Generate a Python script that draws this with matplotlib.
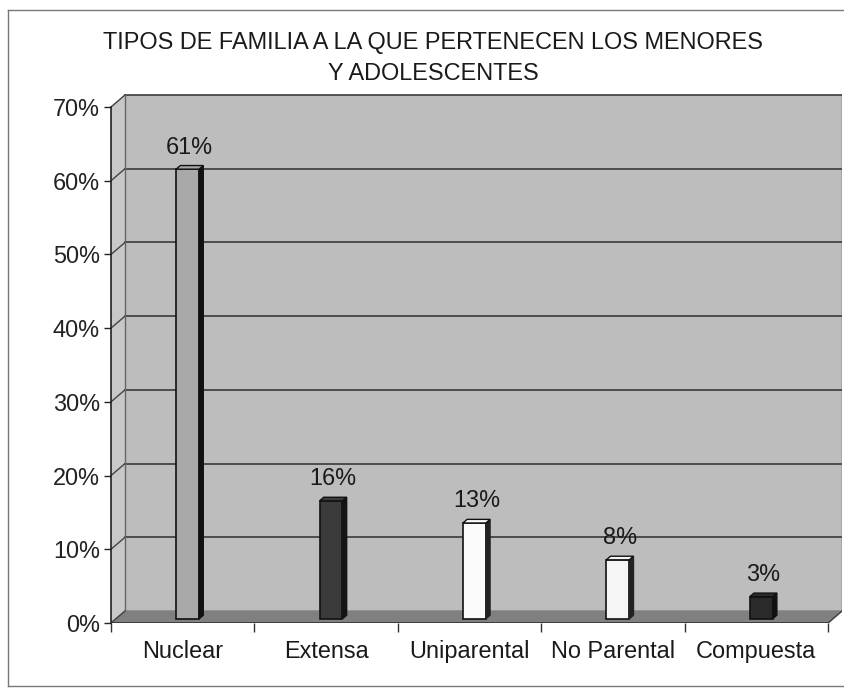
import matplotlib.pyplot as plt
from matplotlib.lines import Line2D

# data
categorias = ['Nuclear', 'Extensa', 'Uniparental', 'No Parental', 'Compuesta']
porcentajes = [61, 16, 13, 8, 3]
colores_frente = ['#a9a9a9', '#3b3b3b', '#fbfbfb', '#f5f5f5', '#2b2b2b']
colores_lado = ['#111111', '#141414', '#222222', '#222222', '#111111']
yticks = [0, 10, 20, 30, 40, 50, 60, 70]

titulo = 'TIPOS DE FAMILIA A LA QUE PERTENECEN LOS MENORES\nY ADOLESCENTES'

plt.rcParams['font.family'] = ['Liberation Sans', 'DejaVu Sans']
FS = 16.9


def main():
    W, H = 844, 689
    fig = plt.figure(figsize=(W / 100, H / 100), dpi=100)
    fig.patch.set_facecolor('white')

    # axes placed in pixel terms
    left, right, bottom, top = 111, 842, 623, 93
    ax = fig.add_axes([left / W, (H - bottom) / H, (right - left) / W, (bottom - top) / H])

    px_cat = (828 - 111) / 5.0
    px_pct = (623 - 107) / 70.0
    ax.set_xlim(0.5, 0.5 + (right - left) / px_cat)
    ax.set_ylim(0, (bottom - top) / px_pct)
    ax.patch.set_alpha(0)

    # depth offset of the 3D box (data units)
    dx = 14 / px_cat
    dy = 12 / px_pct
    x0, x1 = 0.5, 5.5
    ymax = 70

    # back wall, side wall, floor
    ax.fill([x0 + dx, x1 + dx, x1 + dx, x0 + dx], [dy, dy, ymax + dy, ymax + dy],
            color='#bdbdbd', zorder=0)
    ax.fill([x0, x0 + dx, x0 + dx, x0], [0, dy, ymax + dy, ymax],
            color='#c8c8c8', zorder=0)
    ax.fill([x0, x1, x1 + dx, x0 + dx], [0, 0, dy, dy], color='#808080', zorder=1)

    # gridlines on back wall + diagonals on side wall
    for t in yticks:
        ax.plot([x0, x0 + dx], [t, t + dy], color='#444444', lw=1, zorder=1)
        if t > 0:
            ax.plot([x0 + dx, x1 + dx], [t + dy, t + dy], color='#2e2e2e', lw=1.1, zorder=1)
    ax.plot([x0 + dx, x0 + dx], [dy, ymax + dy], color='#666666', lw=1, zorder=1)
    ax.plot([x1 + dx, x1 + dx], [dy, ymax + dy], color='#555555', lw=1, zorder=1)
    ax.plot([x1, x1 + dx], [0, dy], color='#444444', lw=1, zorder=2)
    ax.plot([x0, x1], [0, 0], color='#333333', lw=1.2, zorder=2)

    # bars (front face + right side + top)
    pos = list(range(1, len(categorias) + 1))
    fdx, fdy = 0.35 * dx, 0.35 * dy
    bdx, bdy = 0.3 * dx, 0.3 * dy
    w = 0.16
    xs = [p + fdx for p in pos]
    ax.bar(xs, porcentajes, width=w, bottom=fdy, color=colores_frente,
           edgecolor='#111111', linewidth=1.2, zorder=3)
    for x, v, cf, cs in zip(xs, porcentajes, colores_frente, colores_lado):
        r = x + w / 2
        l = x - w / 2
        ax.fill([r, r + bdx, r + bdx, r], [fdy, fdy + bdy, v + fdy + bdy, v + fdy],
                color=cs, zorder=3)
        ax.fill([l, r, r + bdx, l + bdx], [v + fdy, v + fdy, v + fdy + bdy, v + fdy + bdy],
                facecolor=cf, edgecolor='#111111', lw=1, zorder=3)
        ax.annotate(f'{v}%', (x + bdx / 2, v + fdy + bdy), xytext=(0, 5),
                    textcoords='offset points', ha='center', va='bottom',
                    fontsize=FS, color='#1a1a1a', zorder=4)

    # axes / ticks
    for s in ['top', 'right', 'bottom']:
        ax.spines[s].set_visible(False)
    ax.spines['left'].set_bounds(0, ymax)
    ax.spines['left'].set_color('#222222')
    ax.spines['left'].set_linewidth(1.2)
    ax.set_yticks(yticks)
    ax.set_yticklabels([f'{t}%' for t in yticks])
    ax.tick_params(axis='y', length=5, width=1, pad=3, labelsize=FS, colors='#222222')

    ax.set_xticks([x0 + k for k in range(6)])
    ax.set_xticklabels([])
    ax.tick_params(axis='x', which='major', length=6.5, width=1, colors='#333333')
    ax.set_xticks(pos, minor=True)
    ax.set_xticklabels(categorias, minor=True)
    ax.tick_params(axis='x', which='minor', length=0, pad=12, labelsize=FS, labelcolor='#1a1a1a')

    fig.text(433 / W, 1 - 58 / H, titulo, ha='center', va='center',
             multialignment='center', fontsize=FS, linespacing=1.4, color='#1a1a1a')

    # outer frame of the scanned chart
    fx0, fy0, fy1 = 8 / W, 1 - 10 / H, 1 - 686 / H
    for xd, yd in [([fx0, 1], [fy0, fy0]), ([fx0, fx0], [fy0, fy1]), ([fx0, 1], [fy1, fy1])]:
        fig.add_artist(Line2D(xd, yd, color='#777777', lw=1, transform=fig.transFigure))

    fig.savefig('out.png', dpi=100)


main()
